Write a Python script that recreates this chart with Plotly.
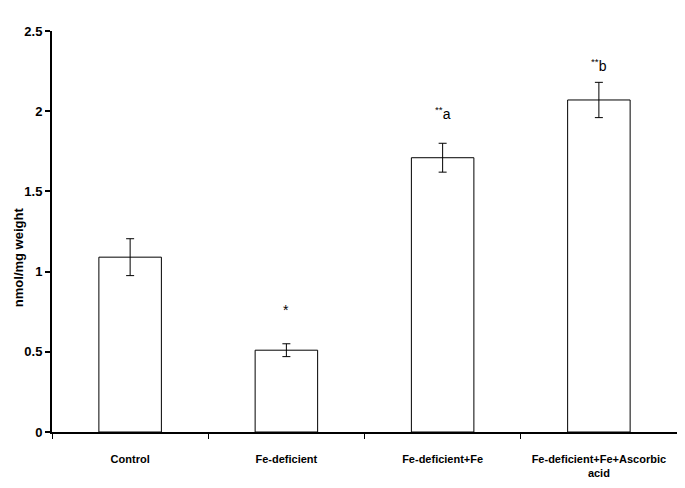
import plotly.graph_objects as go

categories = ["Control", "Fe-deficient", "Fe-deficient+Fe", "Fe-deficient+Fe+Ascorbic<br>acid"]
values = [1.09, 0.51, 1.71, 2.07]
errors = [0.115, 0.04, 0.09, 0.11]
marks = ["*", "<sup>**</sup>a", "<sup>**</sup>b"]
mark_cats = [categories[1], categories[2], categories[3]]
mark_y = [0.76, 1.99, 2.29]
y_ticks = [0, 0.5, 1, 1.5, 2, 2.5]
y_ticklabels = ["0", "0.5", "1", "1.5", "2", "2.5"]
y_title = "nmol/mg weight"

FONT = "Liberation Sans, Arial, sans-serif"

fig = go.Figure()
fig.add_trace(go.Bar(
    x=categories, y=values, width=0.4,
    marker=dict(color="white", line=dict(color="black", width=1)),
    error_y=dict(type="data", array=errors, color="black", thickness=1, width=4),
    showlegend=False,
))

for c, m, yy in zip(mark_cats, marks, mark_y):
    fig.add_annotation(x=c, y=yy, text=m, showarrow=False,
                       font=dict(family=FONT, size=14, color="black"),
                       yanchor="middle")

fig.add_annotation(xref="paper", yref="paper", x=0, y=0.436, xshift=-34,
                   text=y_title, textangle=-90, showarrow=False,
                   xanchor="center", yanchor="middle",
                   font=dict(family=FONT, size=13, color="black", weight="bold"))

# page body has an 8px default margin, so the figure is sized to fit inside it
fig.update_layout(
    width=677, height=480,
    margin=dict(l=44, r=8, t=23, b=56),
    plot_bgcolor="white", paper_bgcolor="white",
    font=dict(family=FONT, color="black"),
    bargap=0.6,
)
fig.update_xaxes(
    showline=True, linecolor="black", linewidth=1.5,
    ticks="outside", tickson="boundaries", ticklen=5, tickcolor="black",
    tickfont=dict(family=FONT, size=11, color="black", weight="bold"),
    ticklabelstandoff=16,
    showgrid=False, automargin=False,
)
fig.update_yaxes(
    range=[0, 2.5], tickvals=y_ticks, ticktext=y_ticklabels,
    showline=True, linecolor="black", linewidth=2,
    ticks="outside", ticklen=5, tickcolor="black", tickwidth=1.5,
    tickfont=dict(family=FONT, size=13, color="black", weight="bold"),
    showgrid=False, zeroline=False, automargin=False,
)

fig.write_html("out.html")
